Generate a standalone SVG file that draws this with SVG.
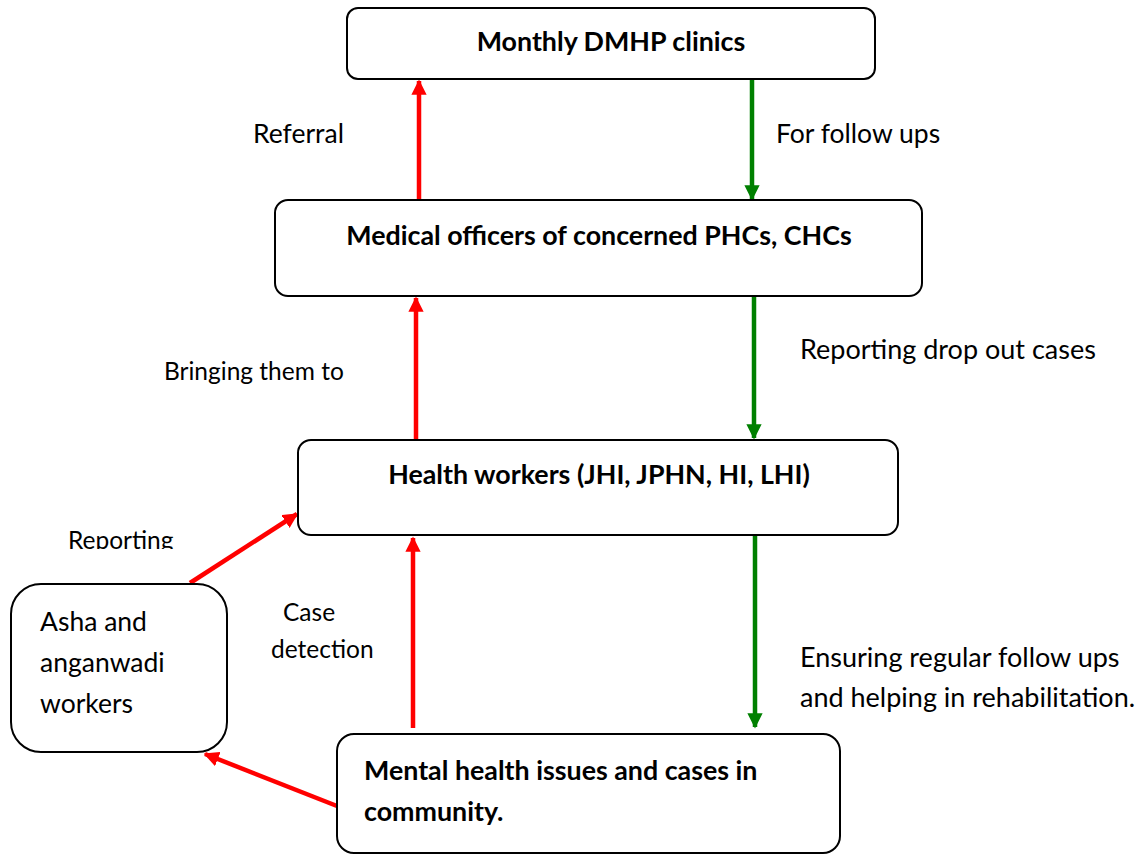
<svg xmlns="http://www.w3.org/2000/svg" width="1147" height="855" viewBox="0 0 1147 855">
<style>
.box{fill:#fff;stroke:#000;stroke-width:2}
.t{font-family:Lato,"Open Sans","Liberation Sans",sans-serif;fill:#000}
.b{font-weight:bold;font-size:26.8px}
.r{stroke:#ff0000;stroke-width:4.5;fill:none}
.g{stroke:#008000;stroke-width:4.5;fill:none}
</style>
<defs>
<marker id="ar" viewBox="0 0 10 10" refX="9" refY="5" markerWidth="3.4" markerHeight="3.4" orient="auto" markerUnits="strokeWidth"><path d="M0,0L10,5L0,10z" fill="#ff0000"/></marker>
<marker id="ag" viewBox="0 0 10 10" refX="9" refY="5" markerWidth="3.4" markerHeight="3.4" orient="auto" markerUnits="strokeWidth"><path d="M0,0L10,5L0,10z" fill="#008000"/></marker>
<clipPath id="clipRep"><rect x="0" y="520" width="300" height="29"/></clipPath>
</defs>
<g id="connectors">
<line class="r" x1="419" y1="200" x2="419" y2="81" marker-end="url(#ar)"/>
<line class="g" x1="752" y1="80" x2="752" y2="199" marker-end="url(#ag)"/>
<line class="r" x1="416" y1="439" x2="416" y2="298" marker-end="url(#ar)"/>
<line class="g" x1="754" y1="297" x2="754" y2="438" marker-end="url(#ag)"/>
<line class="r" x1="190" y1="583" x2="297" y2="514" marker-end="url(#ar)"/>
<line class="r" x1="413" y1="728" x2="413" y2="538" marker-end="url(#ar)"/>
<line class="g" x1="755" y1="536" x2="755" y2="727" marker-end="url(#ag)"/>
<line class="r" x1="337" y1="806" x2="205" y2="754" marker-end="url(#ar)"/>
</g>
<g id="labels">
<text class="t" x="253" y="143" font-size="26.5">Referral</text>
<text class="t" x="776" y="143" font-size="26.5">For follow ups</text>
<text class="t" x="164" y="380" font-size="24.5">Bringing them to</text>
<text class="t" x="800" y="359" font-size="27">Reporting drop out cases</text>
<text class="t" x="68" y="549" font-size="24.5" clip-path="url(#clipRep)">Reporting</text>
<text class="t" x="283" y="621" font-size="24.5">Case</text>
<text class="t" x="271" y="658" font-size="24.5">detection</text>
<text class="t" x="800" y="667" font-size="27">Ensuring regular follow ups</text>
<text class="t" x="800" y="707" font-size="27">and helping in rehabilitation.</text>
</g>
<g id="dmhp">
<rect class="box" x="347" y="8" width="528" height="71" rx="11"/>
<text class="t b" x="611" y="51" text-anchor="middle">Monthly DMHP clinics</text>
</g>
<g id="medical">
<rect class="box" x="275" y="200" width="647" height="96" rx="13"/>
<text class="t b" x="599" y="245" text-anchor="middle">Medical officers of concerned PHCs, CHCs</text>
</g>
<g id="health">
<rect class="box" x="298" y="440" width="600" height="95" rx="13"/>
<text class="t b" x="599" y="484" text-anchor="middle">Health workers (JHI, JPHN, HI, LHI)</text>
</g>
<g id="asha">
<rect class="box" x="11" y="584" width="216" height="168" rx="30"/>
<text class="t" x="40" y="631" font-size="26.5">Asha and</text>
<text class="t" x="40" y="672" font-size="26.5">anganwadi</text>
<text class="t" x="40" y="713" font-size="26.5">workers</text>
</g>
<g id="community">
<rect class="box" x="337" y="734" width="503" height="119" rx="17"/>
<text class="t b" x="364" y="780">Mental health issues and cases in</text>
<text class="t b" x="364" y="821">community.</text>
</g>
</svg>
